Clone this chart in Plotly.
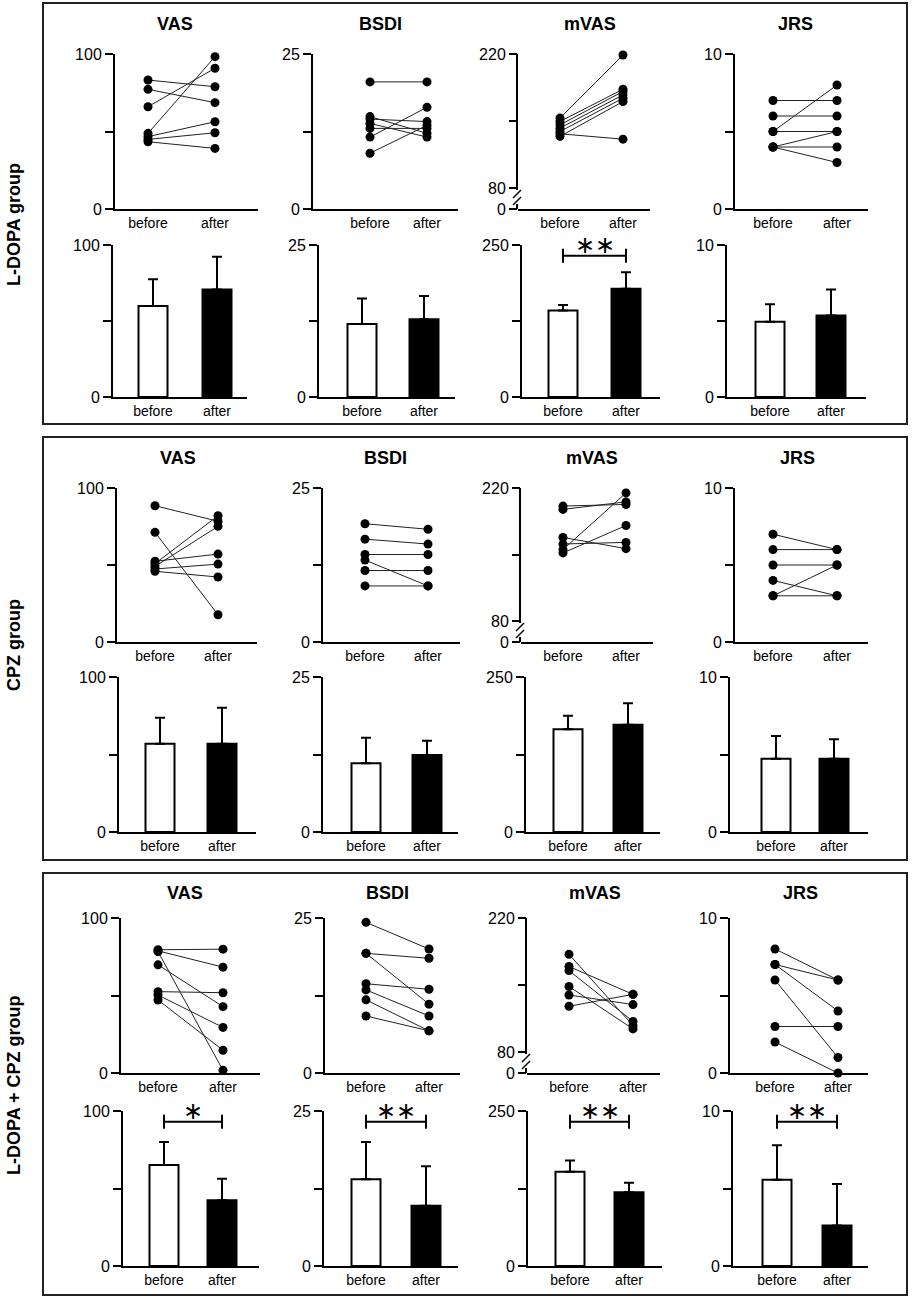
import plotly.graph_objects as go

W, H = 912, 1299

# ---------------- data ----------------
metrics = ["VAS", "BSDI", "mVAS", "JRS"]
groups = ["L-DOPA group", "CPZ group", "L-DOPA + CPZ group"]
conditions = ["before", "after"]
line_y_max = [100, 25, 220, 10]
bar_y_max = [100, 25, 250, 10]
mvas_break_floor = 58      # axis value at the "0" position below the mVAS break
mvas_ticks = [80, 150, 220]

# individual values, L-DOPA group
ldopa_vas_before = [83.2, 77.2, 66.0, 48.8, 46.7, 44.9, 43.4]
ldopa_vas_after = [78.9, 68.6, 90.8, 98.3, 56.3, 49.2, 39.1]
ldopa_bsdi_before = [20.5, 14.9, 14.5, 13.8, 13.0, 11.6, 9.0]
ldopa_bsdi_after = [20.5, 12.2, 14.1, 11.6, 13.0, 16.4, 13.5]
ldopa_mvas_before = [153, 149.5, 146, 142.5, 139, 136.6, 133.9]
ldopa_mvas_after = [219, 183.2, 180.8, 177.3, 173.8, 131, 170.3]
ldopa_jrs_before = [7, 6, 5, 5, 4, 4, 4]
ldopa_jrs_after = [7, 6, 5, 8, 5, 4, 3]

# individual values, CPZ group
cpz_vas_before = [88.5, 71.2, 50.9, 49.1, 52.4, 47.4, 45.9]
cpz_vas_after = [78.4, 17.7, 82.0, 75.1, 57.1, 50.6, 42.2]
cpz_bsdi_before = [19.2, 16.7, 14.2, 13.3, 11.6, 9.1]
cpz_bsdi_after = [18.3, 15.9, 14.2, 9.1, 11.6, 9.1]
cpz_mvas_before = [201, 197.5, 168, 161.1, 155.2, 151.7]
cpz_mvas_after = [202.7, 205.4, 156.2, 162.8, 214.8, 180.5]
cpz_jrs_before = [7, 6, 5, 4, 3, 3]
cpz_jrs_after = [6, 6, 5, 3, 5, 3]

# individual values, L-DOPA + CPZ group
combo_vas_before = [79.5, 78.8, 78.3, 69.8, 52.5, 50.3, 47.1]
combo_vas_after = [79.9, 68.3, 1.7, 42.8, 51.8, 29.4, 14.7]
combo_bsdi_before = [24.3, 19.3, 19.3, 14.4, 13.4, 11.8, 9.2]
combo_bsdi_after = [20.0, 18.5, 11.1, 13.5, 9.2, 6.8, 6.8]
combo_mvas_before = [182, 169.3, 165, 148.4, 139.5, 127.8]
combo_mvas_after = [107.6, 140.2, 111.9, 104.1, 129.5, 140.2]
combo_jrs_before = [8, 7, 7, 6, 3, 2]
combo_jrs_after = [6, 6, 4, 1, 3, 0]

# bar summaries (mean, SD)
ldopa_mean_before = [59.9, 12.0, 142.3, 4.95]
ldopa_sd_before = [17.5, 4.2, 9.2, 1.15]
ldopa_mean_after = [70.8, 12.8, 178.0, 5.37]
ldopa_sd_after = [21.5, 3.8, 27.0, 1.7]
cpz_mean_before = [57.0, 11.1, 165.6, 4.73]
cpz_sd_before = [16.7, 4.1, 22.0, 1.46]
cpz_mean_after = [57.0, 12.4, 173.0, 4.73]
cpz_sd_after = [23.2, 2.3, 34.6, 1.25]
combo_mean_before = [65.2, 14.0, 152.0, 5.57]
combo_sd_before = [14.8, 6.0, 18.0, 2.22]
combo_mean_after = [42.4, 9.7, 118.8, 2.62]
combo_sd_after = [13.9, 6.4, 15.6, 2.67]

ldopa_sig = ["", "", "**", ""]
cpz_sig = ["", "", "", ""]
combo_sig = ["*", "**", "**", "**"]

individual = [
    [(ldopa_vas_before, ldopa_vas_after), (ldopa_bsdi_before, ldopa_bsdi_after),
     (ldopa_mvas_before, ldopa_mvas_after), (ldopa_jrs_before, ldopa_jrs_after)],
    [(cpz_vas_before, cpz_vas_after), (cpz_bsdi_before, cpz_bsdi_after),
     (cpz_mvas_before, cpz_mvas_after), (cpz_jrs_before, cpz_jrs_after)],
    [(combo_vas_before, combo_vas_after), (combo_bsdi_before, combo_bsdi_after),
     (combo_mvas_before, combo_mvas_after), (combo_jrs_before, combo_jrs_after)],
]
summary = [
    (ldopa_mean_before, ldopa_sd_before, ldopa_mean_after, ldopa_sd_after, ldopa_sig),
    (cpz_mean_before, cpz_sd_before, cpz_mean_after, cpz_sd_after, cpz_sig),
    (combo_mean_before, combo_sd_before, combo_mean_after, combo_sd_after, combo_sig),
]

# ---------------- layout geometry (pixels) ----------------
panel_box = [(43, 3, 907, 424), (43, 437, 907, 860), (43, 873, 907, 1295)]
title_y = [24, 458, 893]
title_x = [[175, 380, 590, 795], [178, 385, 592, 797], [185, 387, 595, 800]]
group_label_y = [225, 645, 1085]
line_row_y = [(54, 209), (488, 642), (918, 1073)]
bar_row_y = [(245, 397), (677, 832), (1111, 1266)]
line_geom = [
    [(115, 148, 215, 258), (313, 370, 427, 458), (518, 560, 623, 650), (735, 773, 837, 868)],
    [(117, 155, 218, 257), (323, 365, 428, 460), (521, 563, 626, 653), (735, 773, 837, 868)],
    [(121, 158, 223, 260), (325, 366, 429, 460), (527, 569, 633, 660), (730, 775, 838, 868)],
]
bar_geom = [
    [(113, 153, 217, 247), (319, 362, 424, 455), (522, 563, 626, 660), (727, 770, 831, 866)],
    [(119, 160, 222, 256), (323, 366, 427, 458), (526, 568, 628, 660), (730, 776, 834, 868)],
    [(123, 164, 222, 259), (324, 366, 426, 458), (528, 570, 629, 662), (733, 777, 837, 868)],
]
BAR_PX = 29
SIG_LEVEL = 0.93

NUM_FONT = dict(family="Liberation Sans, Arial, sans-serif", size=16, color="black")
CAT_FONT = dict(family="Liberation Sans, Arial, sans-serif", size=14, color="black")
BOLD_FONT = dict(family="Liberation Sans, Arial, sans-serif", size=18, color="black")


def pxx(p):
    return p / W


def pxy(p):
    return 1 - p / H


fig = go.Figure()
layout = {}
shapes = []
annotations = []
idx = 0


def axis_names(i):
    return ("x" if i == 1 else f"x{i}", "y" if i == 1 else f"y{i}",
            "xaxis" if i == 1 else f"xaxis{i}", "yaxis" if i == 1 else f"yaxis{i}")


def x_axis(ax, endx, xr, ya):
    return dict(domain=[pxx(ax), pxx(endx)], range=xr, anchor=ya, automargin=False,
                showline=True, linecolor="black", linewidth=2, ticks="",
                tickvals=[1, 2], ticktext=conditions, tickfont=CAT_FONT,
                showgrid=False, zeroline=False, fixedrange=True)


def y_axis(yzero, ytop, yr, xa, tv, tt, showline):
    return dict(domain=[pxy(yzero), pxy(ytop)], range=yr, anchor=xa, automargin=False,
                showline=showline, linecolor="black", linewidth=2,
                ticks="outside", ticklen=8, tickwidth=2, tickcolor="black",
                tickvals=tv, ticktext=tt, tickfont=NUM_FONT,
                showgrid=False, zeroline=False, fixedrange=True)


for g in range(3):
    # ---- line (individual) row ----
    ytop, yzero = line_row_y[g]
    for m in range(4):
        idx += 1
        xa, ya, xk, yk = axis_names(idx)
        ax, bpx, apx, endx = line_geom[g][m]
        s = apx - bpx
        xr = [1 - (bpx - ax) / s, 2 + (endx - apx) / s]
        ymax = line_y_max[m]
        if m == 2:
            ylo = mvas_break_floor
            tv = [ylo] + mvas_ticks
            tt = ["0", "80", "", "220"]
            yline = False
        else:
            ylo = 0
            tv = [0, ymax / 2, ymax]
            tt = ["0", "", str(ymax)]
            yline = True
        before, after = individual[g][m]
        xs, ys = [], []
        for b, a in zip(before, after):
            xs += [1, 2, None]
            ys += [b, a, None]
        fig.add_trace(go.Scatter(x=xs, y=ys, mode="lines+markers", xaxis=xa, yaxis=ya,
                                 line=dict(color="#222222", width=1),
                                 marker=dict(color="black", size=9),
                                 cliponaxis=False, hoverinfo="skip"))
        layout[xk] = x_axis(ax, endx, xr, ya)
        layout[yk] = y_axis(yzero, ytop, [ylo, ymax], xa, tv, tt, yline)
        if not yline:
            lx = ax - 1
            seg = dict(type="line", xref="paper", yref="paper",
                       line=dict(color="black", width=2))
            shapes.append(dict(seg, x0=pxx(lx), x1=pxx(lx), y0=pxy(yzero - 19), y1=pxy(ytop)))
            shapes.append(dict(seg, x0=pxx(lx), x1=pxx(lx), y0=pxy(yzero), y1=pxy(yzero - 5)))
            for c in (15, 8):
                shapes.append(dict(type="line", xref="paper", yref="paper",
                                   line=dict(color="black", width=1.5),
                                   x0=pxx(lx - 4), x1=pxx(lx + 4),
                                   y0=pxy(yzero - c + 4), y1=pxy(yzero - c - 4)))
        annotations.append(dict(x=pxx(title_x[g][m]), y=pxy(title_y[g]), xref="paper", yref="paper",
                                text=f"<b>{metrics[m]}</b>", showarrow=False,
                                xanchor="center", yanchor="middle", font=BOLD_FONT))

    # ---- bar (summary) row ----
    ytop, yzero = bar_row_y[g]
    mb, sb, ma, sa, sig = summary[g]
    for m in range(4):
        idx += 1
        xa, ya, xk, yk = axis_names(idx)
        ax, bpx, apx, endx = bar_geom[g][m]
        s = apx - bpx
        xr = [1 - (bpx - ax) / s, 2 + (endx - apx) / s]
        ymax = bar_y_max[m]
        fig.add_trace(go.Bar(x=[1, 2], y=[mb[m], ma[m]], xaxis=xa, yaxis=ya,
                             width=BAR_PX / s,
                             marker=dict(color=["white", "black"],
                                         line=dict(color="black", width=2)),
                             error_y=dict(type="data", symmetric=False,
                                          array=[sb[m], sa[m]], arrayminus=[0, 0],
                                          color="black", thickness=2, width=5),
                             hoverinfo="skip"))
        layout[xk] = x_axis(ax, endx, xr, ya)
        layout[yk] = y_axis(yzero, ytop, [0, ymax], xa,
                            [0, ymax / 2, ymax], ["0", "", str(ymax)], True)
        if sig[m]:
            hpx = yzero - ytop
            lvl = ymax * SIG_LEVEL
            d = ymax * 7 / hpx
            fig.add_trace(go.Scatter(x=[1, 1, None, 1, 2, None, 2, 2],
                                     y=[lvl - d, lvl + d, None, lvl, lvl, None, lvl - d, lvl + d],
                                     mode="lines", xaxis=xa, yaxis=ya,
                                     line=dict(color="black", width=2),
                                     cliponaxis=False, hoverinfo="skip"))
            annotations.append(dict(x=1.5, y=lvl, xref=xa, yref=ya,
                                    text=sig[m].replace("*", "\u2217"), showarrow=False,
                                    xanchor="center", yanchor="middle", yshift=11,
                                    font=dict(family="DejaVu Sans", size=24, color="black")))

    annotations.append(dict(x=pxx(14), y=pxy(group_label_y[g]), xref="paper", yref="paper",
                            text=f"<b>{groups[g]}</b>", showarrow=False, textangle=-90,
                            xanchor="center", yanchor="middle", font=BOLD_FONT))
    x0, y0, x1, y1 = panel_box[g]
    shapes.append(dict(type="rect", xref="paper", yref="paper",
                       x0=pxx(x0), x1=pxx(x1), y0=pxy(y0), y1=pxy(y1),
                       line=dict(color="#222222", width=2), fillcolor="rgba(0,0,0,0)"))

fig.update_layout(width=W, height=H,
                  margin=dict(l=0, r=0, t=0, b=0, pad=0, autoexpand=False),
                  paper_bgcolor="white", plot_bgcolor="white", showlegend=False,
                  shapes=shapes, annotations=annotations, **layout)

page_fix = (
    "document.body.style.margin='0';document.body.style.overflow='hidden';"
    "document.documentElement.style.overflow='hidden';"
)
fig.write_html("out.html", config={"displayModeBar": False}, post_script=page_fix)
